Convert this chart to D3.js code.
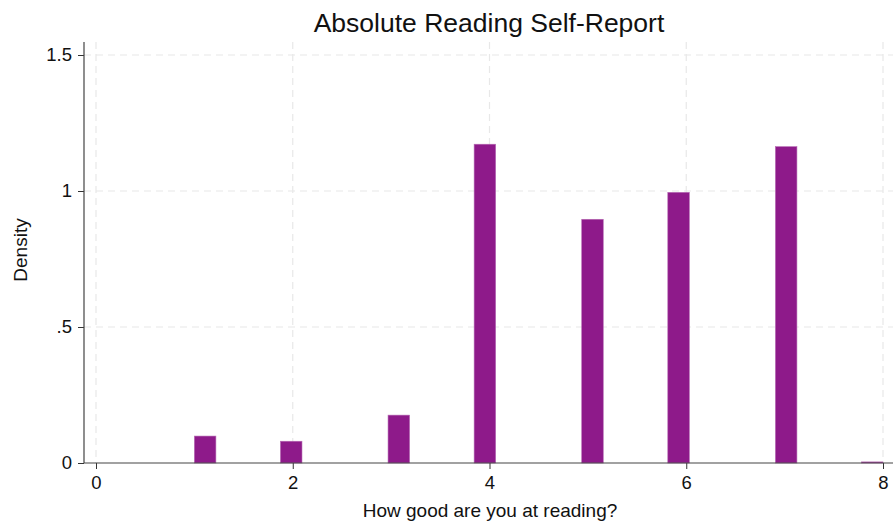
<!DOCTYPE html>
<html><head><meta charset="utf-8">
<script src="https://cdn.jsdelivr.net/npm/d3@7"></script>
<style>body{margin:0;background:#fff}svg{display:block;font-family:"Liberation Sans",Arial,Helvetica,sans-serif}</style>
</head><body><svg id="c" width="893" height="523"></svg>
<script>
const binStart = [1.0, 1.875, 2.96875, 3.84375, 4.9375, 5.8125, 6.90625, 7.78125];
const binWidth = 0.21875;
const density = [0.099, 0.080, 0.176, 1.172, 0.896, 0.995, 1.163, 0.004];
const xTicks = [0, 2, 4, 6, 8];
const yTicks = [0, 0.5, 1, 1.5];
const yTickLabels = ["0", ".5", "1", "1.5"];
const title = "Absolute Reading Self-Report";
const xTitle = "How good are you at reading?";
const yTitle = "Density";

(function () {
const svg = d3.select("#c");
const x = d3.scaleLinear().domain([0, 8]).range([96, 883]);
const y = d3.scaleLinear().domain([0, 1.5]).range([463, 55]);
const pLeft = 84, pRight = 893, pTop = 42, pBottom = 463;

const grid = svg.append("g").attr("stroke", "#e8e8e8").attr("stroke-width", 1.2).attr("stroke-dasharray", "7,5");
grid.selectAll("line.h").data(yTicks.filter(d => d > 0)).join("line").attr("class", "h")
  .attr("x1", pLeft).attr("x2", pRight).attr("y1", d => y(d)).attr("y2", d => y(d));
grid.selectAll("line.v").data(xTicks).join("line").attr("class", "v")
  .attr("y1", pTop).attr("y2", pBottom).attr("x1", d => x(d)).attr("x2", d => x(d));

const bars = binStart.map((s, i) => ({s, v: density[i]}));
svg.append("g").selectAll("rect").data(bars).join("rect")
  .attr("x", d => x(d.s)).attr("width", d => x(d.s + binWidth) - x(d.s))
  .attr("y", d => y(d.v)).attr("height", d => y(0) - y(d.v))
  .attr("fill", "#8e1a8a").attr("stroke", "#b568b2").attr("stroke-width", 0.6);

const xa = d3.axisBottom(x).tickValues(xTicks).tickSize(6).tickPadding(7).tickFormat(d3.format("d"));
const gx = svg.append("g").attr("transform", `translate(0,${pBottom})`).call(xa);
gx.select(".domain").remove();
gx.append("line").attr("x1", pLeft).attr("x2", pRight).attr("stroke", "#444").attr("stroke-width", 1.2);
gx.selectAll(".tick line").attr("stroke", "#333");
gx.selectAll(".tick text").attr("font-size", 18.5).attr("fill", "#111").attr("font-family", "Liberation Sans, Arial, sans-serif");

const ya = d3.axisLeft(y).tickValues(yTicks).tickSize(6).tickPadding(6).tickFormat((d, i) => yTickLabels[i]);
const gy = svg.append("g").attr("transform", `translate(${pLeft},0)`).call(ya);
gy.select(".domain").remove();
gy.append("line").attr("y1", pTop).attr("y2", pBottom).attr("stroke", "#444").attr("stroke-width", 1.2);
gy.selectAll(".tick line").attr("stroke", "#333");
gy.selectAll(".tick text").attr("font-size", 18.5).attr("fill", "#111").attr("font-family", "Liberation Sans, Arial, sans-serif");

svg.append("text").attr("x", 489).attr("y", 32).attr("text-anchor", "middle").attr("font-size", 26.5).attr("fill", "#111").text(title);
svg.append("text").attr("x", 490).attr("y", 517).attr("text-anchor", "middle").attr("font-size", 19).attr("fill", "#111").text(xTitle);
svg.append("text").attr("transform", "translate(27,250) rotate(-90)").attr("text-anchor", "middle").attr("font-size", 19).attr("fill", "#111").text(yTitle);
})();
</script></body></html>
